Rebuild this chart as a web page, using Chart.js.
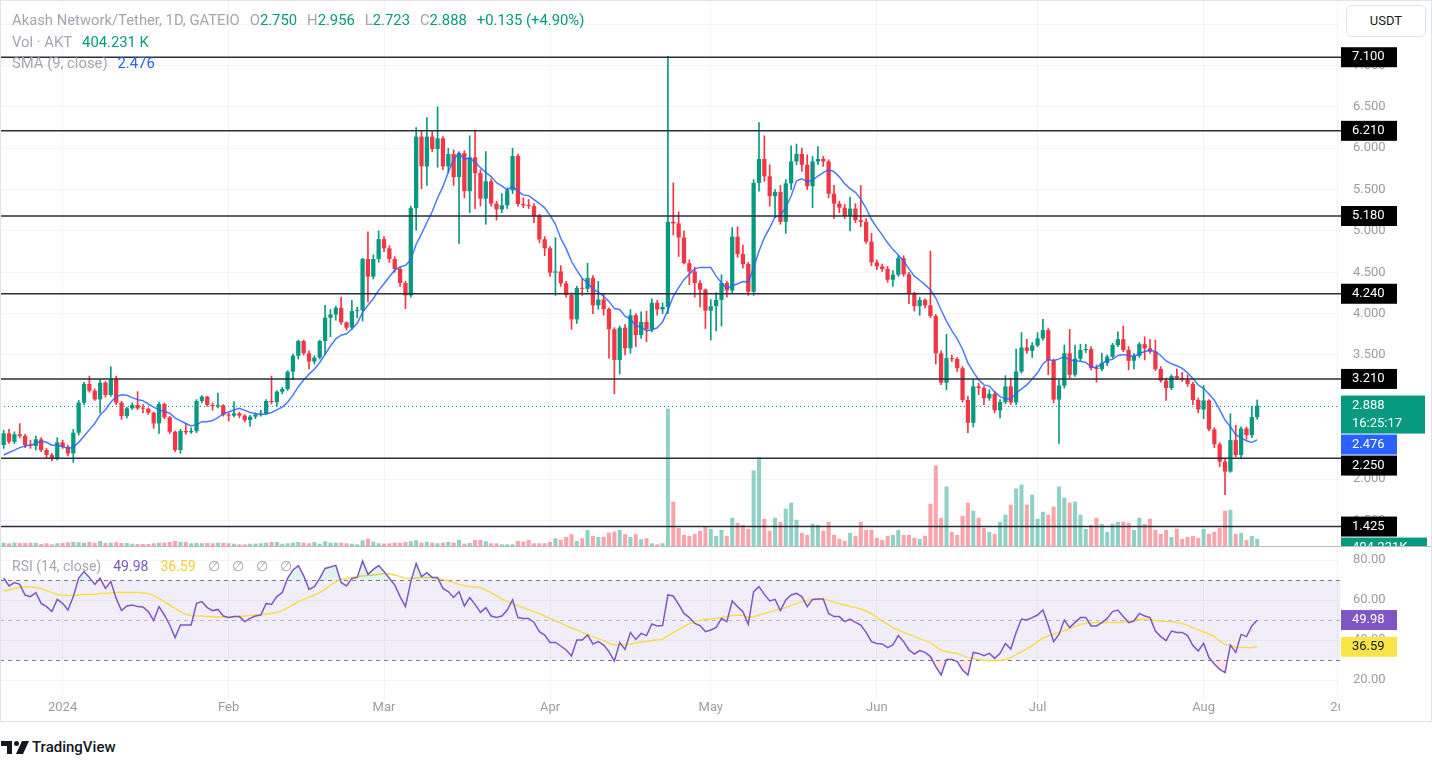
<!DOCTYPE html>
<html>
<head>
<meta charset="utf-8">
<title>Akash Network/Tether 1D</title>
<script src="https://cdn.jsdelivr.net/npm/chart.js@4.4.1/dist/chart.umd.min.js"></script>
<style>
    html, body { margin: 0; padding: 0; background: #fff; }
    body { position: relative; width: 1432px; height: 761px; overflow: hidden; font-family: Roboto, "Noto Sans", sans-serif; }
    canvas { position: absolute; left: 0; }
    #price { top: 0; }
    #rsi { top: 546px; }
    #frame { position: absolute; left: 0; top: 0; width: 1430px; height: 720px; border: 1px solid #e0e3eb; pointer-events: none; }
    #sep { position: absolute; left: 0; top: 546px; width: 1432px; height: 1px; background: #b8bbc3; }
    .legend { position: absolute; left: 12px; font-size: 14.8px; line-height: 20px; color: #a3a6af; white-space: nowrap; }
    .legend.small { font-size: 14px; }
    .gap { display: inline-block; width: 10px; }
    .small .gap { width: 12px; }
    .g { color: #089981; }
    .b { color: #2962ff; }
    .p { color: #7e57c2; }
    .yl { color: #f2cf2e; }
    #usdt { position: absolute; left: 1346px; top: 5px; width: 78px; height: 30px; border: 1px solid #e0e3eb; border-radius: 6px; background: #fff; font-size: 13px; color: #131722; text-align: center; line-height: 30px; }
    #brand { position: absolute; left: 1px; top: 738px; display: flex; align-items: center; font-size: 15px; font-weight: 500; color: #131722; }
    #brand svg { margin-right: 3px; }
</style>
</head>
<body>
<canvas id="price" width="1432" height="546"></canvas>
<canvas id="rsi" width="1432" height="176"></canvas>
<div id="sep"></div>
<div class="legend" style="top:10px">Akash Network/Tether, 1D, GATEIO<span class="gap"></span>O<span class="g">2.750</span><span class="gap"></span>H<span class="g">2.956</span><span class="gap"></span>L<span class="g">2.723</span><span class="gap"></span>C<span class="g">2.888</span><span class="gap"></span><span class="g">+0.135 (+4.90%)</span></div>
<div class="legend" style="top:32px">Vol · AKT<span class="gap"></span><span class="g">404.231 K</span></div>
<div class="legend" style="top:53px">SMA (9, close)<span class="gap"></span><span class="b">2.476</span></div>
<div class="legend small" style="top:556px">RSI (14, close)<span class="gap"></span><span class="p">49.98</span><span class="gap"></span><span class="yl">36.59</span><span class="gap"></span>∅<span class="gap"></span>∅<span class="gap"></span>∅<span class="gap"></span>∅</div>
<div id="usdt">USDT</div>
<div id="frame"></div>
<div id="brand"><svg width="28" height="16" viewBox="0 0 28 16"><path d="M0 2h11v13H6V7H0z" fill="#131722"/><circle cx="15.5" cy="4.5" r="2.5" fill="#131722"/><path d="M21 2h7l-6 13h-7z" fill="#131722"/></svg><span>TradingView</span></div>
<script>
// first candle is 21 Dec 2023, x = days since 1 Jan 2024
const FIRST_DAY = -11;

const opens = [
    2.411, 2.552, 2.451, 2.540, 2.520, 2.411, 2.400, 2.480, 2.351, 2.290,
    2.242, 2.443, 2.390, 2.310, 2.560, 2.923, 3.149, 3.068, 2.963, 3.165,
    3.016, 3.205, 2.923, 2.762, 2.855, 2.895, 2.855, 2.850, 2.802, 2.673,
    2.907, 2.746, 2.572, 2.351, 2.580, 2.565, 2.580, 2.943, 2.996, 2.895,
    2.880, 2.890, 2.774, 2.766, 2.794, 2.766, 2.713, 2.754, 2.780, 2.790,
    2.943, 2.930, 3.056, 3.088, 3.298, 3.490, 3.669, 3.520, 3.420, 3.467,
    3.669, 3.950, 3.990, 4.070, 3.894, 3.830, 4.030, 4.040, 4.660, 4.447,
    4.660, 4.900, 4.790, 4.660, 4.540, 4.370, 4.220, 5.276, 6.140, 5.780,
    6.140, 5.990, 6.120, 5.780, 5.930, 5.650, 5.940, 5.480, 5.890, 5.700,
    5.390, 5.600, 5.330, 5.260, 5.310, 5.490, 5.906, 5.325, 5.310, 5.300,
    5.180, 4.898, 4.790, 4.495, 4.510, 4.366, 4.225, 3.930, 4.310, 4.300,
    4.430, 4.100, 4.170, 4.055, 3.810, 3.440, 3.830, 3.580, 3.980, 3.740,
    3.900, 3.810, 4.130, 4.050, 4.080, 5.110, 5.090, 4.920, 4.610, 4.510,
    4.370, 4.290, 4.035, 4.090, 4.165, 4.370, 4.280, 4.930, 4.720, 4.600,
    4.265, 5.580, 5.870, 5.660, 5.420, 5.470, 5.110, 5.575, 5.840, 5.930,
    5.800, 5.540, 5.840, 5.870, 5.840, 5.450, 5.330, 5.280, 5.180, 5.270,
    5.130, 5.110, 4.870, 4.620, 4.570, 4.540, 4.410, 4.470, 4.670, 4.475,
    4.237, 4.090, 4.165, 4.100, 3.970, 3.520, 3.165, 3.460, 3.450, 3.340,
    2.955, 2.680, 3.120, 3.100, 2.975, 3.030, 2.830, 2.930, 3.120, 2.925,
    3.300, 3.590, 3.550, 3.615, 3.700, 3.800, 3.430, 2.960, 3.130, 3.520,
    3.260, 3.455, 3.560, 3.570, 3.340, 3.330, 3.400, 3.480, 3.620, 3.690,
    3.560, 3.430, 3.490, 3.630, 3.580, 3.540, 3.330, 3.190, 3.100, 3.245,
    3.220, 3.200, 3.150, 2.955, 2.840, 2.950, 2.600, 2.420, 2.210, 2.090,
    2.470, 2.290, 2.610, 2.530, 2.750
];

const highs = [
    2.59, 2.60, 2.57, 2.67, 2.54, 2.47, 2.52, 2.50, 2.37, 2.31,
    2.50, 2.47, 2.41, 2.60, 2.95, 3.17, 3.245, 3.09, 3.205, 3.18,
    3.358, 3.245, 2.94, 2.87, 2.92, 3.056, 2.90, 2.86, 2.81, 2.93,
    2.92, 2.76, 2.58, 2.60, 2.673, 2.62, 2.96, 3.01, 3.00, 2.92,
    3.04, 2.90, 2.80, 2.935, 2.81, 2.78, 2.77, 2.80, 2.83, 2.96,
    3.245, 3.07, 3.11, 3.31, 3.51, 3.68, 3.68, 3.55, 3.49, 3.68,
    4.10, 4.05, 4.09, 4.20, 3.90, 4.16, 4.08, 4.67, 4.99, 4.71,
    5.00, 4.93, 4.82, 4.69, 4.56, 4.39, 5.30, 6.25, 6.20, 6.37,
    6.20, 6.50, 6.14, 6.00, 5.98, 5.96, 5.97, 6.15, 6.22, 5.74,
    5.96, 5.63, 5.36, 5.45, 5.52, 6.00, 5.93, 5.40, 5.38, 5.33,
    5.20, 4.93, 4.81, 4.92, 4.58, 4.39, 4.25, 4.33, 4.42, 4.61,
    4.46, 4.39, 4.24, 4.07, 3.83, 3.85, 3.87, 4.05, 4.00, 4.02,
    4.03, 4.18, 4.16, 4.13, 7.11, 5.58, 5.23, 5.00, 4.65, 4.56,
    4.40, 4.30, 4.17, 4.25, 4.47, 4.39, 5.04, 5.05, 4.83, 4.62,
    5.62, 6.31, 6.15, 5.80, 5.50, 5.55, 5.62, 6.03, 6.05, 6.00,
    5.92, 5.90, 6.02, 5.90, 5.86, 5.55, 5.36, 5.32, 5.41, 5.33,
    5.55, 5.15, 4.97, 4.65, 4.60, 4.57, 4.52, 4.70, 4.70, 4.50,
    4.26, 4.20, 4.18, 4.757, 3.99, 3.55, 3.75, 3.50, 3.47, 3.36,
    3.00, 3.20, 3.16, 3.12, 3.08, 3.06, 2.96, 3.25, 3.22, 3.57,
    3.77, 3.69, 3.65, 3.77, 3.93, 3.82, 3.45, 3.20, 3.62, 3.81,
    3.62, 3.63, 3.63, 3.60, 3.38, 3.52, 3.50, 3.64, 3.78, 3.85,
    3.60, 3.52, 3.65, 3.72, 3.69, 3.68, 3.36, 3.22, 3.26, 3.33,
    3.29, 3.26, 3.17, 2.98, 3.13, 2.96, 2.62, 2.44, 2.24, 2.79,
    2.65, 2.63, 2.63, 2.88, 2.956
];

const lows = [
    2.37, 2.43, 2.43, 2.50, 2.38, 2.37, 2.35, 2.33, 2.26, 2.22,
    2.23, 2.37, 2.28, 2.20, 2.53, 2.90, 3.05, 2.95, 2.80, 2.99,
    3.00, 2.90, 2.72, 2.74, 2.84, 2.84, 2.80, 2.78, 2.613, 2.552,
    2.73, 2.55, 2.33, 2.31, 2.54, 2.55, 2.56, 2.92, 2.88, 2.83,
    2.86, 2.76, 2.70, 2.75, 2.74, 2.69, 2.64, 2.73, 2.76, 2.78,
    2.91, 2.88, 3.03, 3.07, 3.20, 3.45, 3.50, 3.33, 3.39, 3.45,
    3.50, 3.72, 3.92, 3.87, 3.80, 3.81, 3.95, 3.91, 4.14, 4.42,
    4.62, 4.75, 4.62, 4.50, 4.33, 4.06, 4.20, 5.01, 5.51, 5.55,
    5.96, 5.77, 5.74, 5.70, 5.55, 4.85, 5.40, 5.22, 5.27, 5.30,
    5.08, 5.30, 5.13, 5.22, 5.27, 5.45, 5.30, 5.28, 5.27, 5.10,
    4.86, 4.70, 4.45, 4.22, 4.33, 4.20, 3.81, 3.88, 4.22, 4.26,
    4.00, 4.05, 3.98, 3.46, 3.03, 3.27, 3.50, 3.52, 3.60, 3.70,
    3.66, 3.78, 3.98, 4.00, 4.00, 4.95, 4.69, 4.60, 4.35, 4.20,
    4.08, 3.82, 3.68, 3.79, 3.85, 4.20, 4.25, 4.68, 4.55, 4.22,
    4.22, 5.48, 5.60, 5.30, 5.16, 5.08, 4.97, 5.50, 5.80, 5.72,
    5.50, 5.28, 5.80, 5.78, 5.40, 5.15, 5.22, 5.15, 5.00, 5.10,
    5.05, 4.85, 4.58, 4.53, 4.51, 4.38, 4.33, 4.45, 4.45, 4.12,
    4.03, 3.98, 4.07, 3.95, 3.39, 3.14, 3.08, 3.42, 3.30, 2.93,
    2.56, 2.63, 3.02, 2.90, 2.95, 2.80, 2.74, 2.91, 2.90, 2.90,
    3.28, 3.52, 3.47, 3.60, 3.68, 3.26, 2.92, 2.43, 3.10, 3.22,
    3.24, 3.43, 3.53, 3.32, 3.17, 3.31, 3.37, 3.46, 3.60, 3.54,
    3.32, 3.33, 3.47, 3.44, 3.52, 3.31, 3.17, 2.95, 3.08, 3.20,
    3.18, 3.12, 2.90, 2.80, 2.73, 2.58, 2.38, 2.15, 1.81, 2.08,
    2.27, 2.25, 2.48, 2.50, 2.723
];

const closes = [
    2.552, 2.451, 2.540, 2.520, 2.411, 2.400, 2.480, 2.351, 2.290, 2.242,
    2.443, 2.390, 2.310, 2.560, 2.923, 3.149, 3.068, 2.963, 3.165, 3.016,
    3.205, 2.923, 2.762, 2.855, 2.895, 2.855, 2.850, 2.802, 2.673, 2.907,
    2.746, 2.572, 2.351, 2.580, 2.565, 2.580, 2.943, 2.996, 2.895, 2.880,
    2.890, 2.774, 2.766, 2.794, 2.766, 2.713, 2.754, 2.780, 2.790, 2.943,
    2.930, 3.056, 3.088, 3.298, 3.490, 3.669, 3.520, 3.420, 3.467, 3.669,
    3.950, 3.990, 4.070, 3.894, 3.830, 4.030, 4.040, 4.660, 4.447, 4.660,
    4.900, 4.790, 4.660, 4.540, 4.370, 4.220, 5.276, 6.140, 5.780, 6.140,
    5.990, 6.120, 5.780, 5.930, 5.650, 5.940, 5.480, 5.890, 5.700, 5.390,
    5.600, 5.330, 5.260, 5.310, 5.490, 5.906, 5.325, 5.310, 5.300, 5.180,
    4.898, 4.790, 4.495, 4.510, 4.366, 4.225, 3.930, 4.310, 4.300, 4.430,
    4.100, 4.170, 4.055, 3.810, 3.440, 3.830, 3.580, 3.980, 3.740, 3.900,
    3.810, 4.130, 4.050, 4.080, 5.110, 5.090, 4.920, 4.610, 4.510, 4.370,
    4.290, 4.035, 4.090, 4.165, 4.370, 4.280, 4.930, 4.720, 4.600, 4.265,
    5.580, 5.870, 5.660, 5.420, 5.470, 5.110, 5.575, 5.840, 5.930, 5.800,
    5.540, 5.840, 5.870, 5.840, 5.450, 5.330, 5.280, 5.180, 5.270, 5.130,
    5.110, 4.870, 4.620, 4.570, 4.540, 4.410, 4.470, 4.670, 4.475, 4.237,
    4.090, 4.165, 4.100, 3.970, 3.520, 3.165, 3.460, 3.450, 3.340, 2.955,
    2.680, 3.120, 3.100, 2.975, 3.030, 2.830, 2.930, 3.120, 2.925, 3.300,
    3.590, 3.550, 3.615, 3.700, 3.800, 3.430, 2.960, 3.130, 3.520, 3.260,
    3.455, 3.560, 3.570, 3.340, 3.330, 3.400, 3.480, 3.620, 3.690, 3.560,
    3.430, 3.490, 3.630, 3.580, 3.540, 3.330, 3.190, 3.100, 3.245, 3.220,
    3.200, 3.150, 2.955, 2.840, 2.950, 2.600, 2.420, 2.210, 2.090, 2.470,
    2.290, 2.610, 2.530, 2.750, 2.888
];

// SMA values of the first 8 candles (their window starts before the view)
const smaHead = [2.29, 2.32, 2.35, 2.38, 2.40, 2.41, 2.43, 2.46];

// thousands of AKT
const volumes = [
    191, 157, 191, 174, 174, 191, 174, 116, 157, 99,
    157, 174, 215, 232, 215, 191, 232, 191, 290, 174,
    191, 215, 174, 174, 133, 116, 116, 116, 157, 191,
    191, 232, 290, 232, 232, 157, 174, 157, 174, 157,
    191, 174, 157, 133, 99, 99, 133, 133, 157, 191,
    232, 232, 133, 157, 191, 232, 191, 157, 232, 133,
    273, 191, 191, 191, 157, 133, 99, 331, 423, 249,
    157, 133, 157, 191, 191, 232, 273, 331, 191, 232,
    191, 157, 191, 232, 191, 348, 133, 174, 348, 348,
    273, 157, 157, 99, 99, 99, 290, 249, 348, 157,
    157, 157, 232, 447, 348, 522, 679, 290, 447, 928,
    580, 522, 522, 771, 829, 928, 679, 522, 679, 389,
    447, 157, 99, 157, 7888, 2552, 1044, 638, 580, 696,
    870, 1102, 986, 580, 928, 580, 1624, 1334, 1218, 986,
    4350, 5104, 1566, 870, 1624, 1392, 2146, 2494, 1508, 754,
    638, 1276, 1218, 870, 1392, 638, 406, 290, 754, 580,
    1392, 928, 928, 464, 348, 580, 638, 928, 638, 638,
    464, 406, 580, 2436, 4640, 1624, 3422, 812, 638, 1740,
    2494, 2030, 1624, 1044, 812, 696, 1392, 1798, 2378, 3306,
    3538, 2378, 2958, 1566, 1972, 1798, 2262, 3422, 2784, 2494,
    2552, 1798, 986, 1218, 1624, 1276, 812, 1276, 1392, 1392,
    1334, 928, 1624, 1276, 1566, 928, 696, 928, 522, 986,
    406, 522, 580, 464, 986, 696, 812, 1044, 2030, 2088,
    696, 754, 348, 580, 404
];

const rsi = [
    71, 67, 68.7, 67.8, 62.5, 61.7, 63.7, 58.3, 56.7, 54.2,
    60.3, 58.3, 55, 61.7, 71, 74.2, 71.3, 67.8, 70.8, 65.8,
    69.2, 60.8, 54.7, 57, 57.5, 56.7, 56.5, 54.2, 49.7, 56.7,
    52.5, 47.5, 41.2, 47.5, 47.5, 47.5, 58.3, 59.2, 56.2, 54.7,
    55.3, 52, 51.3, 51.7, 51.7, 49.2, 50.8, 52, 52.5, 58.3,
    57.8, 61.7, 63.7, 70.8, 75, 77.2, 72.2, 65.3, 66.7, 70.8,
    75.8, 76.5, 77.3, 68.8, 67, 70.8, 71.3, 79.5, 72.8, 75.3,
    77.2, 74.2, 70.8, 67.5, 61.7, 56.7, 69.2, 78.3, 71.7, 73.7,
    71.3, 71.2, 65.8, 64.2, 61.3, 64.2, 57, 61.2, 57.8, 53.8,
    56.2, 52, 51.3, 52, 55, 60, 51.2, 50.8, 50.8, 48.8,
    44.2, 42.5, 38.8, 38.8, 37, 35, 32, 40, 40, 42.5,
    38, 39.2, 37.5, 34.2, 29.5, 38.7, 35.3, 43.7, 40.3, 43.3,
    42.2, 48, 47, 47.2, 62.5, 62, 57.8, 53.3, 51.2, 48.3,
    47.2, 44.2, 45, 46.3, 50.8, 49.2, 59.5, 56.7, 54.2, 47.8,
    64.2, 66.7, 62.8, 59.5, 60.3, 54.7, 60, 62.5, 63.3, 61.7,
    56.7, 60.3, 60.5, 60.5, 53.3, 51.7, 51.7, 49.2, 50.5, 48.8,
    47.5, 43.8, 39.2, 38.3, 38, 36.2, 37.5, 42.2, 39.2, 35,
    33, 34.7, 33.8, 31.7, 26.7, 22.5, 30.3, 30.3, 29.2, 25,
    22.5, 33.8, 33.3, 32.2, 33.3, 30.8, 33.3, 38.3, 35.5, 43.8,
    50.5, 50, 51.2, 52.5, 55, 47.5, 39.2, 42.8, 50, 46.2,
    48.8, 51.2, 51.2, 47, 47, 48.7, 50.8, 54.2, 55, 51.7,
    48.7, 49.5, 53.3, 52, 51.2, 44.5, 41.7, 39.7, 44.5, 43.8,
    43.8, 42.2, 37.2, 34.5, 38.3, 31.2, 28, 25.3, 23.7, 37.5,
    33.8, 42.8, 41.7, 47, 49.98
];

const rsiMa = [
    64.5, 65, 65.8, 66.3, 66.7, 66.5, 66.2, 65.7, 64.7, 63.7,
    62.8, 62.3, 62.2, 62.3, 62.5, 62.7, 62.8, 62.8, 63.2, 63.3,
    63.5, 63.7, 63.7, 63.7, 63.7, 63.7, 63.5, 63.3, 62.2, 60.8,
    59.2, 57.5, 55.8, 54.2, 52.8, 52.2, 52, 52, 51.8, 51.7,
    51.5, 51.5, 51.3, 51.5, 51.7, 52, 52.3, 52.5, 52.7, 53,
    53.3, 53.7, 54.7, 56.2, 57.5, 59.2, 60.3, 61.3, 62.5, 63.7,
    65.3, 67.5, 69.2, 70.3, 70.8, 71.3, 71.7, 72, 72.2, 72.5,
    72.8, 73.3, 73, 72.5, 71.7, 70.8, 70.8, 71, 71.2, 71.3,
    71.2, 70.8, 70.3, 69.5, 68.7, 67.8, 67.2, 66.7, 66.5, 66.2,
    65, 63.7, 62.2, 60.5, 59.2, 58.2, 57.2, 56.2, 55.2, 54.2,
    53.2, 52, 50.8, 49.7, 48.5, 47.2, 46, 45, 43.8, 42.8,
    41.7, 40.7, 39.7, 38.3, 37.5, 37.5, 37.7, 38, 38.5, 39,
    39.3, 39.7, 40, 40.3, 42.2, 43.8, 45.2, 46.7, 48.2, 49.5,
    49.8, 50.2, 50.5, 50.8, 51.2, 51.7, 52.2, 52.5, 52.2, 51.5,
    51.5, 52.5, 53.3, 54, 54.7, 55.3, 56.2, 57.3, 58.3, 59.2,
    59.8, 60.2, 60.5, 60.8, 59.8, 58.8, 58.2, 57.5, 56.8, 56.2,
    55.5, 54.5, 53.2, 51.2, 49.5, 47.8, 46.2, 45, 43.8, 42.8,
    41.7, 40.7, 39.7, 38.7, 36.7, 34.7, 34.2, 33.7, 33.2, 32.2,
    31.3, 30.7, 30.2, 29.8, 29.7, 29.7, 29.8, 30.3, 31.2, 32.7,
    34.2, 35.5, 37.2, 39.2, 41, 42, 42.7, 43.7, 44.7, 45.8,
    46.7, 47.8, 48.3, 48.5, 48.7, 48.7, 48.7, 48.7, 48.8, 49,
    49.5, 50, 50.3, 50.5, 50.3, 49.8, 49.5, 49.3, 49.2, 48.8,
    48.3, 47.3, 46.2, 45.2, 44, 43, 41.7, 39.5, 37.8, 37.2,
    36.5, 36.2, 36.2, 36.3, 36.59
];

const monthDays = [0, 31, 60, 91, 121, 152, 182, 213, 238];
const monthLabels = ["2024", "Feb", "Mar", "Apr", "May", "Jun", "Jul", "Aug", "26"];
const priceTicks = [1.5, 2, 3.5, 4, 4.5, 5, 5.5, 6, 6.5, 7, 7.5];
const rsiTicks = [20, 40, 60, 80];
const levels = [7.1, 6.21, 5.18, 4.24, 3.21, 2.25, 1.425];
const smaLast = 2.476;
const countdown = "16:25:17";

const UP = "#089981",
    DOWN = "#f23645",
    GRID = "#f3f4f6",
    AXIS_TEXT = "#9a9da6",
    X_MIN = -11.686,
    X_MAX = 238.46;

Chart.defaults.font.family = 'Roboto, "Noto Sans", sans-serif';
Chart.defaults.animation = false;
Chart.defaults.plugins.legend.display = false;
Chart.defaults.plugins.tooltip.enabled = false;

const days = closes.map((_, i) => FIRST_DAY + i);
const up = i => closes[i] >= opens[i];
const sma = closes.map((_, i) => i < 8 ? smaHead[i] : closes.slice(i - 8, i + 1).reduce((a, b) => a + b, 0) / 9);

// keep chart areas edge to edge: no label padding around the plot
function noPadding(s) {
    s.paddingTop = 0;
    s.paddingBottom = 0;
    s.paddingLeft = 0;
    s.paddingRight = 0;
}

function timeScale(labels) {
    return {
        type: "linear",
        min: X_MIN,
        max: X_MAX,
        offset: false,
        afterBuildTicks: s => { s.ticks = monthDays.map(value => ({ value })); },
        afterFit: s => {
            s.height = labels ? 22 : 0;
            noPadding(s);
        },
        ticks: {
            display: labels,
            autoSkip: false,
            maxRotation: 0,
            padding: 0,
            color: AXIS_TEXT,
            font: { size: 13 },
            callback: v => monthLabels[monthDays.indexOf(v)],
        },
        grid: { color: GRID, drawTicks: false, offset: false },
        border: { display: false },
    };
}

function valueScale(min, max, ticks, digits) {
    return {
        position: "right",
        min,
        max,
        afterBuildTicks: s => { s.ticks = ticks.map(value => ({ value })); },
        afterFit: s => {
            s.width = 92;
            noPadding(s);
        },
        ticks: { padding: 13, color: AXIS_TEXT, font: { size: 13 }, callback: v => Number(v).toFixed(digits) },
        grid: { color: GRID, drawTicks: false },
        border: { display: false },
    };
}

function box(ctx, x, top, w, h, fill, lines, color) {
    ctx.fillStyle = fill;
    ctx.fillRect(x, top, w, h);
    ctx.fillStyle = color;
    ctx.font = "13px Roboto, 'Noto Sans', sans-serif";
    ctx.textAlign = "left";
    ctx.textBaseline = "middle";
    lines.forEach((t, k) => ctx.fillText(t, x + 11, top + 10 + k * 18));
}

const priceOverlay = {
    id: "priceOverlay",
    afterDatasetsDraw(chart) {
        const { ctx, chartArea: a, scales: { y } } = chart;
        ctx.save();
        ctx.strokeStyle = "#2a2e39";
        ctx.lineWidth = 1.5;
        levels.forEach(l => {
            const py = y.getPixelForValue(l);
            ctx.beginPath();
            ctx.moveTo(a.left, py);
            ctx.lineTo(a.right + 1, py);
            ctx.stroke();
        });
        const cy = Math.round(y.getPixelForValue(closes[closes.length - 1])) + 0.5;
        ctx.setLineDash([1, 3]);
        ctx.strokeStyle = UP;
        ctx.lineWidth = 1;
        ctx.beginPath();
        ctx.moveTo(a.left, cy);
        ctx.lineTo(a.right, cy);
        ctx.stroke();
        ctx.restore();
    },
    afterDraw(chart) {
        const { ctx, chartArea: a, scales: { y, yVol } } = chart;
        const last = closes.length - 1;
        const items = levels.map(l => ({ y: y.getPixelForValue(l), h: 20, w: 56, fill: "#000", color: "#fff", lines: [l.toFixed(3)] }));
        items.push({ y: y.getPixelForValue(closes[last]), h: 38, w: 84, fill: UP, color: "#fff", lines: [closes[last].toFixed(3), countdown] });
        items.push({ y: y.getPixelForValue(smaLast), h: 20, w: 56, fill: "#2962ff", color: "#fff", lines: [smaLast.toFixed(3)] });
        items.push({ y: yVol.getPixelForValue(volumes[last]), h: 20, w: 86, fill: UP, color: "#fff", lines: ["404.231K"] });
        items.sort((p, q) => p.y - q.y);
        let bottom = -Infinity;
        ctx.save();
        items.forEach(it => {
            const top = Math.max(it.y - 10, bottom + 1);
            bottom = top + it.h;
            box(ctx, a.right + 1, top, it.w, it.h, it.fill, it.lines, it.color);
        });
        ctx.restore();
    }
};

new Chart(document.getElementById("price"), {
    type: "bar",
    data: {
        datasets: [{
            type: "line",
            label: "SMA 9",
            data: sma.map((v, i) => ({ x: days[i], y: v })),
            borderColor: "rgba(41,98,255,0.85)",
            borderWidth: 1.5,
            pointRadius: 0,
            order: 0,
        }, {
            label: "Body",
            data: opens.map((o, i) => ({ x: days[i], y: [Math.min(o, closes[i]), Math.max(o, closes[i])] })),
            backgroundColor: ctx => up(ctx.dataIndex) ? UP : DOWN,
            grouped: false,
            barPercentage: 0.8,
            categoryPercentage: 1,
            minBarLength: 1,
            order: 1,
        }, {
            label: "Wick",
            data: highs.map((h, i) => ({ x: days[i], y: [lows[i], h] })),
            backgroundColor: ctx => up(ctx.dataIndex) ? UP : DOWN,
            grouped: false,
            barThickness: 1,
            order: 2,
        }, {
            label: "Volume",
            yAxisID: "yVol",
            data: volumes.map((v, i) => ({ x: days[i], y: v })),
            backgroundColor: ctx => up(ctx.dataIndex) ? "rgba(8,153,129,0.45)" : "rgba(242,54,69,0.45)",
            grouped: false,
            barPercentage: 0.75,
            categoryPercentage: 1,
            order: 3,
        }]
    },
    options: {
        responsive: false,
        devicePixelRatio: 1,
        layout: { padding: 0 },
        scales: {
            x: timeScale(false),
            y: valueScale(1.19, 7.792, priceTicks, 3),
            yVol: { axis: "y", position: "left", display: false, min: 0, max: 31400 },
        }
    },
    plugins: [priceOverlay]
});

const rsiOverlay = {
    id: "rsiOverlay",
    beforeDatasetsDraw(chart) {
        const { ctx, chartArea: a, scales: { y } } = chart;
        ctx.save();
        ctx.fillStyle = "rgba(126,87,194,0.1)";
        ctx.fillRect(a.left, y.getPixelForValue(70), a.width, y.getPixelForValue(30) - y.getPixelForValue(70));
        ctx.setLineDash([4, 4]);
        ctx.lineWidth = 1;
        [[70, "#787b86"], [50, "rgba(120,123,134,0.45)"], [30, "#787b86"]].forEach(([v, c]) => {
            const py = Math.round(y.getPixelForValue(v)) + 0.5;
            ctx.strokeStyle = c;
            ctx.beginPath();
            ctx.moveTo(a.left, py);
            ctx.lineTo(a.right, py);
            ctx.stroke();
        });
        ctx.restore();
    },
    afterDraw(chart) {
        const { ctx, chartArea: a, scales: { y } } = chart;
        const last = rsi.length - 1;
        ctx.save();
        ctx.fillStyle = "#fff";
        ctx.fillRect(a.right, a.bottom, chart.width - a.right, chart.height - a.bottom);
        box(ctx, a.right + 1, y.getPixelForValue(rsi[last]) - 10, 56, 20, "#7e57c2", [rsi[last].toFixed(2)], "#fff");
        box(ctx, a.right + 1, y.getPixelForValue(rsiMa[last]) - 10, 56, 20, "#f9e547", [rsiMa[last].toFixed(2)], "#131722");
        ctx.restore();
    }
};

new Chart(document.getElementById("rsi"), {
    type: "line",
    data: {
        datasets: [{
            label: "RSI",
            data: rsi.map((v, i) => ({ x: days[i], y: v })),
            borderColor: "#7e57c2",
            borderWidth: 1.5,
            pointRadius: 0,
            fill: { target: { value: 70 }, above: "rgba(8,153,129,0.12)", below: "transparent" },
            order: 0,
        }, {
            label: "RSI low",
            data: rsi.map((v, i) => ({ x: days[i], y: v })),
            borderWidth: 0,
            borderColor: "transparent",
            pointRadius: 0,
            fill: { target: { value: 30 }, above: "transparent", below: "rgba(242,54,69,0.12)" },
            order: 2,
        }, {
            label: "RSI MA",
            data: rsiMa.map((v, i) => ({ x: days[i], y: v })),
            borderColor: "#f7dc4f",
            borderWidth: 1.5,
            pointRadius: 0,
            order: 1,
        }]
    },
    options: {
        responsive: false,
        devicePixelRatio: 1,
        layout: { padding: 0 },
        scales: {
            x: timeScale(true),
            y: valueScale(10, 87, rsiTicks, 2),
        }
    },
    plugins: [rsiOverlay]
});
</script>
</body>
</html>
